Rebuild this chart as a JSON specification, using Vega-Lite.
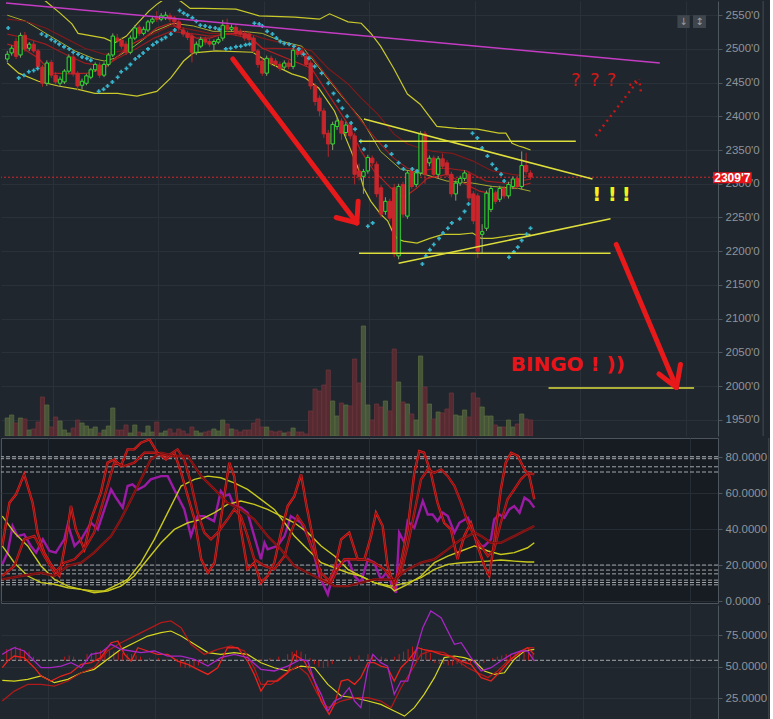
{
"$schema":"https://vega.github.io/schema/vega-lite/v6.json",
"background":"#1f262d",
"padding":0,
"spacing":2,
"bounds":"flush",
"resolve":{"scale":{"color":"independent"}},
"config":{"view":{"stroke":null},"axis":{"labelFont":"Liberation Sans","labelFontSize":11.5,"labelColor":"#8e949b","domainColor":"#4d555d","tickColor":"#4d555d","gridColor":"#2a3139","tickSize":4,"labelPadding":3,"labelOverlap":false}},
"datasets":{
"cd":[
{"i":0,"o":2485,"h":2497,"l":2480,"c":2492,"v":18},{"i":1,"o":2494,"h":2505,"l":2490,"c":2501,"v":21},{"i":2,"o":2511,"h":2516,"l":2485,"c":2489,"v":13},{"i":3,"o":2491,"h":2524,"l":2487,"c":2520,"v":18},{"i":4,"o":2520,"h":2525,"l":2496,"c":2500,"v":17},{"i":5,"o":2501,"h":2510,"l":2497,"c":2507,"v":6},{"i":6,"o":2507,"h":2512,"l":2494,"c":2497,"v":7},{"i":7,"o":2497,"h":2500,"l":2470,"c":2474,"v":14},{"i":8,"o":2473,"h":2476,"l":2444,"c":2449,"v":39},{"i":9,"o":2449,"h":2483,"l":2445,"c":2479,"v":31},
{"i":10,"o":2480,"h":2484,"l":2457,"c":2461,"v":9},{"i":11,"o":2461,"h":2466,"l":2447,"c":2451,"v":19},{"i":12,"o":2449,"h":2459,"l":2444,"c":2455,"v":15},{"i":13,"o":2451,"h":2470,"l":2448,"c":2467,"v":6},{"i":14,"o":2467,"h":2492,"l":2464,"c":2488,"v":3},{"i":15,"o":2488,"h":2492,"l":2459,"c":2463,"v":8},{"i":16,"o":2464,"h":2467,"l":2438,"c":2445,"v":16},{"i":17,"o":2446,"h":2456,"l":2440,"c":2452,"v":13},{"i":18,"o":2449,"h":2463,"l":2446,"c":2460,"v":10},{"i":19,"o":2458,"h":2472,"l":2455,"c":2469,"v":7},
{"i":20,"o":2469,"h":2480,"l":2466,"c":2477,"v":9},{"i":21,"o":2476,"h":2480,"l":2457,"c":2461,"v":3},{"i":22,"o":2461,"h":2480,"l":2458,"c":2477,"v":6},{"i":23,"o":2477,"h":2494,"l":2474,"c":2491,"v":10},{"i":24,"o":2491,"h":2523,"l":2488,"c":2519,"v":28},{"i":25,"o":2516,"h":2522,"l":2509,"c":2512,"v":6},{"i":26,"o":2513,"h":2517,"l":2500,"c":2504,"v":6},{"i":27,"o":2507,"h":2511,"l":2491,"c":2495,"v":11},{"i":28,"o":2495,"h":2520,"l":2492,"c":2516,"v":3},{"i":29,"o":2516,"h":2535,"l":2513,"c":2531,"v":11},
{"i":30,"o":2532,"h":2536,"l":2519,"c":2523,"v":4},{"i":31,"o":2523,"h":2533,"l":2520,"c":2529,"v":3},{"i":32,"o":2528,"h":2543,"l":2525,"c":2540,"v":10},{"i":33,"o":2540,"h":2547,"l":2537,"c":2544,"v":4},{"i":34,"o":2546,"h":2556,"l":2540,"c":2544,"v":14},{"i":35,"o":2544,"h":2553,"l":2541,"c":2549,"v":3},{"i":36,"o":2546,"h":2555,"l":2543,"c":2550,"v":5},{"i":37,"o":2549,"h":2553,"l":2540,"c":2544,"v":7},{"i":38,"o":2546,"h":2549,"l":2536,"c":2540,"v":3},{"i":39,"o":2540,"h":2543,"l":2527,"c":2531,"v":7},
{"i":40,"o":2528,"h":2532,"l":2518,"c":2522,"v":5},{"i":41,"o":2523,"h":2527,"l":2513,"c":2517,"v":2},{"i":42,"o":2519,"h":2523,"l":2480,"c":2495,"v":9},{"i":43,"o":2495,"h":2511,"l":2491,"c":2507,"v":5},{"i":44,"o":2504,"h":2518,"l":2501,"c":2514,"v":3},{"i":45,"o":2514,"h":2518,"l":2506,"c":2510,"v":4},{"i":46,"o":2511,"h":2515,"l":2503,"c":2507,"v":5},{"i":47,"o":2507,"h":2514,"l":2497,"c":2511,"v":7},{"i":48,"o":2510,"h":2518,"l":2507,"c":2514,"v":5},{"i":49,"o":2516,"h":2543,"l":2512,"c":2535,"v":16},
{"i":50,"o":2535,"h":2545,"l":2525,"c":2529,"v":12},{"i":51,"o":2529,"h":2536,"l":2525,"c":2532,"v":7},{"i":52,"o":2532,"h":2536,"l":2519,"c":2523,"v":6},{"i":53,"o":2526,"h":2530,"l":2518,"c":2522,"v":4},{"i":54,"o":2523,"h":2527,"l":2512,"c":2516,"v":6},{"i":55,"o":2522,"h":2526,"l":2510,"c":2514,"v":6},{"i":56,"o":2516,"h":2520,"l":2493,"c":2497,"v":13},{"i":57,"o":2497,"h":2500,"l":2472,"c":2477,"v":17},{"i":58,"o":2482,"h":2486,"l":2460,"c":2464,"v":9},{"i":59,"o":2464,"h":2490,"l":2460,"c":2486,"v":9},
{"i":60,"o":2486,"h":2490,"l":2475,"c":2479,"v":5},{"i":61,"o":2482,"h":2486,"l":2473,"c":2477,"v":4},{"i":62,"o":2477,"h":2481,"l":2467,"c":2471,"v":5},{"i":63,"o":2473,"h":2483,"l":2469,"c":2479,"v":3},{"i":64,"o":2479,"h":2483,"l":2470,"c":2474,"v":4},{"i":65,"o":2474,"h":2502,"l":2470,"c":2498,"v":8},{"i":66,"o":2498,"h":2502,"l":2488,"c":2492,"v":4},{"i":67,"o":2497,"h":2501,"l":2488,"c":2492,"v":4},{"i":68,"o":2489,"h":2493,"l":2473,"c":2477,"v":2},{"i":69,"o":2479,"h":2483,"l":2440,"c":2445,"v":25},
{"i":70,"o":2445,"h":2449,"l":2416,"c":2422,"v":47},{"i":71,"o":2427,"h":2431,"l":2400,"c":2408,"v":45},{"i":72,"o":2408,"h":2412,"l":2368,"c":2374,"v":51},{"i":73,"o":2375,"h":2380,"l":2340,"c":2359,"v":66},{"i":74,"o":2359,"h":2392,"l":2350,"c":2388,"v":35},{"i":75,"o":2385,"h":2398,"l":2380,"c":2393,"v":20},{"i":76,"o":2393,"h":2397,"l":2365,"c":2375,"v":33},{"i":77,"o":2376,"h":2392,"l":2370,"c":2387,"v":31},{"i":78,"o":2387,"h":2391,"l":2366,"c":2371,"v":30},{"i":79,"o":2371,"h":2375,"l":2299,"c":2314,"v":77},
{"i":80,"o":2319,"h":2330,"l":2305,"c":2311,"v":53},{"i":81,"o":2311,"h":2322,"l":2285,"c":2318,"v":110},{"i":82,"o":2319,"h":2343,"l":2315,"c":2339,"v":31},{"i":83,"o":2338,"h":2342,"l":2326,"c":2331,"v":16},{"i":84,"o":2329,"h":2333,"l":2280,"c":2285,"v":32},{"i":85,"o":2294,"h":2298,"l":2250,"c":2255,"v":29},{"i":86,"o":2259,"h":2280,"l":2254,"c":2274,"v":35},{"i":87,"o":2274,"h":2278,"l":2244,"c":2249,"v":25},{"i":88,"o":2294,"h":2300,"l":2191,"c":2196,"v":87},{"i":89,"o":2193,"h":2300,"l":2188,"c":2296,"v":54},
{"i":90,"o":2299,"h":2303,"l":2250,"c":2255,"v":34},{"i":91,"o":2252,"h":2320,"l":2248,"c":2316,"v":32},{"i":92,"o":2319,"h":2323,"l":2292,"c":2296,"v":22},{"i":93,"o":2299,"h":2320,"l":2295,"c":2316,"v":16},{"i":94,"o":2316,"h":2378,"l":2312,"c":2374,"v":80},{"i":95,"o":2374,"h":2378,"l":2300,"c":2314,"v":49},{"i":96,"o":2331,"h":2342,"l":2326,"c":2338,"v":32},{"i":97,"o":2338,"h":2342,"l":2310,"c":2314,"v":17},{"i":98,"o":2314,"h":2341,"l":2308,"c":2337,"v":24},{"i":99,"o":2337,"h":2345,"l":2322,"c":2326,"v":23},
{"i":100,"o":2331,"h":2335,"l":2310,"c":2314,"v":27},{"i":101,"o":2314,"h":2318,"l":2280,"c":2285,"v":43},{"i":102,"o":2285,"h":2305,"l":2275,"c":2301,"v":21},{"i":103,"o":2301,"h":2312,"l":2297,"c":2308,"v":20},{"i":104,"o":2308,"h":2320,"l":2304,"c":2316,"v":26},{"i":105,"o":2314,"h":2318,"l":2274,"c":2279,"v":19},{"i":106,"o":2285,"h":2289,"l":2240,"c":2245,"v":43},{"i":107,"o":2282,"h":2286,"l":2190,"c":2200,"v":38},{"i":108,"o":2225,"h":2240,"l":2196,"c":2229,"v":29},{"i":109,"o":2234,"h":2290,"l":2230,"c":2286,"v":20},
{"i":110,"o":2262,"h":2297,"l":2258,"c":2293,"v":20},{"i":111,"o":2286,"h":2290,"l":2270,"c":2274,"v":11},{"i":112,"o":2277,"h":2297,"l":2273,"c":2293,"v":9},{"i":113,"o":2293,"h":2297,"l":2278,"c":2282,"v":9},{"i":114,"o":2282,"h":2303,"l":2278,"c":2299,"v":16},{"i":115,"o":2296,"h":2311,"l":2292,"c":2307,"v":9},{"i":116,"o":2308,"h":2312,"l":2292,"c":2296,"v":12},{"i":117,"o":2296,"h":2348,"l":2292,"c":2327,"v":22},{"i":118,"o":2327,"h":2346,"l":2314,"c":2318,"v":17},{"i":119,"o":2316,"h":2320,"l":2306,"c":2310,"v":16}
],
"ml":[
{"s":"u","i":0,"p":2600},{"s":"u","i":4.2,"p":2586},{"s":"u","i":8.7,"p":2571},{"s":"u","i":12.0,"p":2553},{"s":"u","i":14.7,"p":2537},{"s":"u","i":16.1,"p":2523},{"s":"u","i":22.1,"p":2516},{"s":"u","i":24.4,"p":2509},{"s":"u","i":27.1,"p":2519},{"s":"u","i":29.5,"p":2537},{"s":"u","i":32.2,"p":2556},{"s":"u","i":34.0,"p":2566},{"s":"u","i":36.7,"p":2578},{"s":"u","i":39.4,"p":2571},{"s":"u","i":41.6,"p":2560},{"s":"u","i":44.6,"p":2560},{"s":"u","i":52.0,"p":2559},{"s":"u","i":57.3,"p":2549},{"s":"u","i":65.4,"p":2547},{"s":"u","i":71.0,"p":2544},{"s":"u","i":73.3,"p":2552},{"s":"u","i":77.5,"p":2540},{"s":"u","i":80.5,"p":2538},{"s":"u","i":82.7,"p":2523},{"s":"u","i":84.9,"p":2504},{"s":"u","i":87.9,"p":2471},{"s":"u","i":91.0,"p":2433},{"s":"u","i":93.9,"p":2418},{"s":"u","i":97.7,"p":2385},{"s":"u","i":102.2,"p":2382},{"s":"u","i":106.9,"p":2381},{"s":"u","i":111.8,"p":2375},{"s":"u","i":113.4,"p":2375},{"s":"u","i":114.8,"p":2360},{"s":"u","i":116.3,"p":2356},{"s":"u","i":117.4,"p":2354},{"s":"u","i":119.0,"p":2350},
{"s":"m","i":0,"p":2550},{"s":"m","i":4.2,"p":2541},{"s":"m","i":9.8,"p":2519},{"s":"m","i":15.4,"p":2497},{"s":"m","i":19.9,"p":2485},{"s":"m","i":22.1,"p":2482},{"s":"m","i":24.4,"p":2486},{"s":"m","i":28.9,"p":2504},{"s":"m","i":33.4,"p":2526},{"s":"m","i":37.8,"p":2538},{"s":"m","i":42.3,"p":2534},{"s":"m","i":46.8,"p":2526},{"s":"m","i":53.5,"p":2526},{"s":"m","i":58.0,"p":2523},{"s":"m","i":62.5,"p":2511},{"s":"m","i":67.0,"p":2504},{"s":"m","i":71.5,"p":2467},{"s":"m","i":76.0,"p":2430},{"s":"m","i":80.5,"p":2396},{"s":"m","i":84.9,"p":2348},{"s":"m","i":89.4,"p":2322},{"s":"m","i":93.9,"p":2316},{"s":"m","i":100.0,"p":2304},{"s":"m","i":105.8,"p":2301},{"s":"m","i":110.3,"p":2296},{"s":"m","i":116.3,"p":2293},{"s":"m","i":119.0,"p":2289},
{"s":"l","i":0,"p":2479},{"s":"l","i":2.6,"p":2464},{"s":"l","i":7.1,"p":2452},{"s":"l","i":11.6,"p":2445},{"s":"l","i":16.1,"p":2440},{"s":"l","i":19.9,"p":2434},{"s":"l","i":25.1,"p":2434},{"s":"l","i":29.5,"p":2430},{"s":"l","i":34.0,"p":2437},{"s":"l","i":37.2,"p":2457},{"s":"l","i":40.1,"p":2482},{"s":"l","i":42.3,"p":2494},{"s":"l","i":47.5,"p":2497},{"s":"l","i":55.8,"p":2495},{"s":"l","i":58.0,"p":2486},{"s":"l","i":60.3,"p":2477},{"s":"l","i":64.7,"p":2463},{"s":"l","i":67.7,"p":2457},{"s":"l","i":70.8,"p":2442},{"s":"l","i":74.4,"p":2408},{"s":"l","i":76.6,"p":2374},{"s":"l","i":79.8,"p":2323},{"s":"l","i":81.1,"p":2293},{"s":"l","i":82.7,"p":2274},{"s":"l","i":84.9,"p":2255},{"s":"l","i":86.5,"p":2245},{"s":"l","i":87.9,"p":2225},{"s":"l","i":88.8,"p":2218},{"s":"l","i":90.1,"p":2215},{"s":"l","i":93.2,"p":2212},{"s":"l","i":96.1,"p":2219},{"s":"l","i":99.1,"p":2225},{"s":"l","i":102.9,"p":2225},{"s":"l","i":105.8,"p":2227},{"s":"l","i":107.8,"p":2219},{"s":"l","i":110.3,"p":2219},{"s":"l","i":113.4,"p":2222},{"s":"l","i":116.3,"p":2225},{"s":"l","i":119.0,"p":2225},
{"s":"a","i":0,"p":2544},{"s":"a","i":4.2,"p":2541},{"s":"a","i":8.7,"p":2531},{"s":"a","i":13.2,"p":2516},{"s":"a","i":17.6,"p":2501},{"s":"a","i":22.1,"p":2492},{"s":"a","i":25.9,"p":2497},{"s":"a","i":29.5,"p":2511},{"s":"a","i":33.4,"p":2523},{"s":"a","i":37.2,"p":2534},{"s":"a","i":41.6,"p":2529},{"s":"a","i":46.1,"p":2523},{"s":"a","i":50.6,"p":2523},{"s":"a","i":55.1,"p":2522},{"s":"a","i":58.0,"p":2516},{"s":"a","i":65.4,"p":2504},{"s":"a","i":69.2,"p":2497},{"s":"a","i":73.0,"p":2471},{"s":"a","i":77.5,"p":2448},{"s":"a","i":80.5,"p":2427},{"s":"a","i":84.3,"p":2403},{"s":"a","i":87.9,"p":2374},{"s":"a","i":91.0,"p":2359},{"s":"a","i":93.9,"p":2353},{"s":"a","i":96.8,"p":2348},{"s":"a","i":101.3,"p":2345},{"s":"a","i":105.8,"p":2334},{"s":"a","i":110.3,"p":2319},{"s":"a","i":114.8,"p":2314},{"s":"a","i":119.0,"p":2311},
{"s":"b","i":0,"p":2522},{"s":"b","i":4.2,"p":2516},{"s":"b","i":8.7,"p":2507},{"s":"b","i":13.2,"p":2492},{"s":"b","i":17.6,"p":2479},{"s":"b","i":22.1,"p":2474},{"s":"b","i":25.1,"p":2486},{"s":"b","i":29.5,"p":2501},{"s":"b","i":33.4,"p":2516},{"s":"b","i":37.2,"p":2526},{"s":"b","i":41.6,"p":2523},{"s":"b","i":46.1,"p":2519},{"s":"b","i":50.6,"p":2522},{"s":"b","i":55.1,"p":2516},{"s":"b","i":58.0,"p":2501},{"s":"b","i":65.4,"p":2500},{"s":"b","i":69.2,"p":2489},{"s":"b","i":73.0,"p":2457},{"s":"b","i":76.6,"p":2427},{"s":"b","i":80.5,"p":2393},{"s":"b","i":84.3,"p":2363},{"s":"b","i":87.9,"p":2338},{"s":"b","i":91.0,"p":2323},{"s":"b","i":93.9,"p":2319},{"s":"b","i":96.8,"p":2322},{"s":"b","i":100.0,"p":2323},{"s":"b","i":104.4,"p":2319},{"s":"b","i":108.9,"p":2304},{"s":"b","i":113.4,"p":2301},{"s":"b","i":116.3,"p":2304},{"s":"b","i":119.0,"p":2307},
{"s":"f","i":0,"p":2507},{"s":"f","i":3.5,"p":2501},{"s":"f","i":7.1,"p":2486},{"s":"f","i":10.2,"p":2464},{"s":"f","i":14.7,"p":2463},{"s":"f","i":18.3,"p":2464},{"s":"f","i":22.1,"p":2471},{"s":"f","i":25.1,"p":2489},{"s":"f","i":28.2,"p":2507},{"s":"f","i":31.1,"p":2516},{"s":"f","i":34.0,"p":2531},{"s":"f","i":37.2,"p":2538},{"s":"f","i":40.1,"p":2526},{"s":"f","i":43.0,"p":2516},{"s":"f","i":46.1,"p":2516},{"s":"f","i":49.0,"p":2522},{"s":"f","i":52.0,"p":2523},{"s":"f","i":55.1,"p":2519},{"s":"f","i":58.0,"p":2501},{"s":"f","i":69.2,"p":2471},{"s":"f","i":73.0,"p":2433},{"s":"f","i":77.5,"p":2388},{"s":"f","i":80.5,"p":2348},{"s":"f","i":83.4,"p":2319},{"s":"f","i":87.2,"p":2294},{"s":"f","i":90.1,"p":2279},{"s":"f","i":93.2,"p":2294},{"s":"f","i":95.5,"p":2308},{"s":"f","i":100.0,"p":2314},{"s":"f","i":104.4,"p":2299},{"s":"f","i":107.4,"p":2289},{"s":"f","i":110.3,"p":2285},{"s":"f","i":113.4,"p":2292},{"s":"f","i":116.3,"p":2296},{"s":"f","i":119.0,"p":2301}
],
"sar":[
{"i":0.2,"p":2531},{"i":2.6,"p":2457},{"i":3.8,"p":2461},{"i":4.9,"p":2466},{"i":6.0,"p":2468},{"i":6.9,"p":2471},{"i":7.8,"p":2522},{"i":8.9,"p":2519},{"i":10.0,"p":2514},{"i":10.9,"p":2511},{"i":11.8,"p":2507},{"i":12.9,"p":2503},{"i":14.1,"p":2500},{"i":15.0,"p":2495},{"i":16.1,"p":2492},{"i":17.0,"p":2488},{"i":18.1,"p":2486},{"i":19.0,"p":2483},{"i":20.8,"p":2437},{"i":21.9,"p":2440},{"i":22.8,"p":2445},{"i":23.9,"p":2451},{"i":25.1,"p":2458},{"i":25.9,"p":2466},{"i":27.1,"p":2471},{"i":28.0,"p":2477},{"i":29.1,"p":2485},{"i":30.0,"p":2489},{"i":30.9,"p":2494},{"i":32.0,"p":2500},{"i":33.1,"p":2506},{"i":34.0,"p":2510},{"i":35.1,"p":2514},{"i":36.0,"p":2517},{"i":37.2,"p":2522},{"i":38.1,"p":2528},{"i":39.2,"p":2557},{"i":40.1,"p":2553},{"i":41.0,"p":2550},{"i":42.1,"p":2546},{"i":43.0,"p":2541},{"i":43.9,"p":2535},{"i":45.0,"p":2534},{"i":46.1,"p":2532},{"i":47.3,"p":2531},{"i":48.2,"p":2529},{"i":49.7,"p":2500},{"i":50.8,"p":2501},{"i":52.0,"p":2503},{"i":53.1,"p":2504},{"i":54.2,"p":2506},{"i":55.1,"p":2507},{"i":56.2,"p":2538},{"i":57.3,"p":2537},{"i":58.0,"p":2534},{"i":59.1,"p":2526},{"i":60.3,"p":2522},{"i":61.2,"p":2516},{"i":62.1,"p":2511},{"i":63.0,"p":2508},{"i":64.1,"p":2507},{"i":65.2,"p":2504},{"i":66.3,"p":2500},{"i":67.4,"p":2492},{"i":68.6,"p":2486},{"i":69.9,"p":2474},{"i":71.5,"p":2464},{"i":73.0,"p":2449},{"i":74.2,"p":2434},{"i":75.3,"p":2423},{"i":76.2,"p":2412},{"i":77.3,"p":2400},{"i":78.2,"p":2390},{"i":79.1,"p":2381},{"i":80.4,"p":2363},{"i":81.1,"p":2351},{"i":82.0,"p":2237},{"i":83.1,"p":2242},{"i":86.1,"p":2356},{"i":87.4,"p":2344},{"i":89.0,"p":2331},{"i":90.1,"p":2322},{"i":92.1,"p":2322},{"i":93.2,"p":2319},{"i":94.4,"p":2181},{"i":95.2,"p":2193},{"i":96.1,"p":2202},{"i":97.0,"p":2210},{"i":98.2,"p":2219},{"i":99.1,"p":2227},{"i":100.2,"p":2234},{"i":101.1,"p":2242},{"i":102.9,"p":2248},{"i":104.0,"p":2259},{"i":104.9,"p":2270},{"i":105.8,"p":2375},{"i":106.9,"p":2368},{"i":108.0,"p":2353},{"i":109.2,"p":2341},{"i":110.3,"p":2329},{"i":111.2,"p":2322},{"i":112.3,"p":2314},{"i":113.0,"p":2304},{"i":114.1,"p":2191},{"i":115.2,"p":2199},{"i":116.1,"p":2206},{"i":117.0,"p":2216},{"i":118.1,"p":2225},{"i":119.0,"p":2234}
],
"st":[
{"s":"p","i":0,"v":20.4},{"s":"p","i":1.2,"v":26.9},{"s":"p","i":2.3,"v":41.7},{"s":"p","i":3.4,"v":36.1},{"s":"p","i":4.9,"v":37.0},{"s":"p","i":6.4,"v":30.6},{"s":"p","i":7.6,"v":26.9},{"s":"p","i":9.1,"v":34.3},{"s":"p","i":10.6,"v":27.8},{"s":"p","i":12.0,"v":26.9},{"s":"p","i":13.9,"v":34.3},{"s":"p","i":14.7,"v":42.6},{"s":"p","i":16.2,"v":30.6},{"s":"p","i":17.7,"v":34.3},{"s":"p","i":19.9,"v":43.5},{"s":"p","i":21.4,"v":39.8},{"s":"p","i":22.9,"v":51.0},{"s":"p","i":24.4,"v":62.0},{"s":"p","i":25.5,"v":57.4},{"s":"p","i":27.0,"v":51.9},{"s":"p","i":28.1,"v":63.9},{"s":"p","i":29.2,"v":64.8},{"s":"p","i":30.4,"v":62.0},{"s":"p","i":31.9,"v":63.9},{"s":"p","i":33.3,"v":67.6},{"s":"p","i":35.6,"v":69.4},{"s":"p","i":37.1,"v":69.4},{"s":"p","i":39.3,"v":58.3},{"s":"p","i":40.8,"v":51.0},{"s":"p","i":42.3,"v":36.1},{"s":"p","i":43.8,"v":47.2},{"s":"p","i":45.3,"v":47.2},{"s":"p","i":47.5,"v":44.4},{"s":"p","i":49.0,"v":61.1},{"s":"p","i":49.8,"v":58.3},{"s":"p","i":50.9,"v":59.3},{"s":"p","i":52.0,"v":52.8},{"s":"p","i":53.5,"v":51.9},{"s":"p","i":55.0,"v":49.1},{"s":"p","i":56.5,"v":36.1},{"s":"p","i":58.0,"v":23.2},{"s":"p","i":58.8,"v":32.4},{"s":"p","i":59.5,"v":28.7},{"s":"p","i":61.7,"v":30.6},{"s":"p","i":63.3,"v":36.1},{"s":"p","i":64.7,"v":47.2},{"s":"p","i":67.0,"v":43.5},{"s":"p","i":68.5,"v":36.1},{"s":"p","i":69.6,"v":28.7},{"s":"p","i":71.1,"v":13.9},{"s":"p","i":73.0,"v":3.7},{"s":"p","i":74.5,"v":17.6},{"s":"p","i":76.0,"v":21.3},{"s":"p","i":77.5,"v":23.2},{"s":"p","i":79.0,"v":13.9},{"s":"p","i":80.4,"v":10.2},{"s":"p","i":82.0,"v":23.2},{"s":"p","i":83.4,"v":21.3},{"s":"p","i":84.9,"v":12.0},{"s":"p","i":86.1,"v":15.7},{"s":"p","i":87.2,"v":10.2},{"s":"p","i":88.3,"v":4.6},{"s":"p","i":89.0,"v":38.0},{"s":"p","i":90.2,"v":32.4},{"s":"p","i":90.9,"v":44.4},{"s":"p","i":92.4,"v":40.7},{"s":"p","i":94.3,"v":55.6},{"s":"p","i":95.4,"v":48.1},{"s":"p","i":96.5,"v":48.1},{"s":"p","i":97.6,"v":44.4},{"s":"p","i":98.8,"v":49.1},{"s":"p","i":99.9,"v":47.2},{"s":"p","i":101.4,"v":38.0},{"s":"p","i":102.5,"v":43.5},{"s":"p","i":104.4,"v":46.3},{"s":"p","i":105.5,"v":39.8},{"s":"p","i":106.6,"v":30.6},{"s":"p","i":108.1,"v":30.6},{"s":"p","i":109.6,"v":34.3},{"s":"p","i":110.3,"v":45.4},{"s":"p","i":111.5,"v":48.1},{"s":"p","i":112.6,"v":46.3},{"s":"p","i":113.7,"v":50.9},{"s":"p","i":114.8,"v":52.8},{"s":"p","i":116.0,"v":49.1},{"s":"p","i":117.1,"v":57.4},{"s":"p","i":118.2,"v":55.6},{"s":"p","i":119.3,"v":51.9},
{"s":"r1","i":0,"v":30.6},{"s":"r1","i":1.6,"v":54.6},{"s":"r1","i":3.1,"v":59.3},{"s":"r1","i":4.9,"v":70.4},{"s":"r1","i":6.8,"v":54.6},{"s":"r1","i":7.9,"v":38.0},{"s":"r1","i":9.4,"v":26.9},{"s":"r1","i":10.9,"v":20.4},{"s":"r1","i":12.8,"v":13.9},{"s":"r1","i":14.3,"v":34.3},{"s":"r1","i":15.4,"v":52.8},{"s":"r1","i":16.5,"v":39.8},{"s":"r1","i":18.4,"v":28.7},{"s":"r1","i":19.9,"v":45.4},{"s":"r1","i":22.1,"v":60.2},{"s":"r1","i":23.6,"v":76.9},{"s":"r1","i":25.1,"v":78.7},{"s":"r1","i":26.6,"v":75.0},{"s":"r1","i":28.1,"v":84.3},{"s":"r1","i":29.6,"v":84.3},{"s":"r1","i":31.1,"v":88.0},{"s":"r1","i":33.0,"v":89.8},{"s":"r1","i":34.8,"v":82.4},{"s":"r1","i":36.7,"v":78.7},{"s":"r1","i":38.6,"v":82.4},{"s":"r1","i":40.1,"v":71.3},{"s":"r1","i":41.6,"v":58.3},{"s":"r1","i":43.1,"v":45.4},{"s":"r1","i":44.6,"v":23.2},{"s":"r1","i":46.1,"v":15.7},{"s":"r1","i":47.6,"v":21.3},{"s":"r1","i":49.0,"v":45.4},{"s":"r1","i":50.9,"v":76.9},{"s":"r1","i":52.0,"v":69.4},{"s":"r1","i":53.5,"v":39.8},{"s":"r1","i":55.0,"v":17.6},{"s":"r1","i":56.5,"v":21.3},{"s":"r1","i":58.0,"v":10.2},{"s":"r1","i":59.5,"v":13.9},{"s":"r1","i":61.0,"v":21.3},{"s":"r1","i":62.5,"v":38.0},{"s":"r1","i":64.0,"v":52.8},{"s":"r1","i":65.5,"v":58.3},{"s":"r1","i":67.0,"v":70.4},{"s":"r1","i":68.1,"v":54.6},{"s":"r1","i":70.0,"v":30.6},{"s":"r1","i":71.5,"v":12.0},{"s":"r1","i":73.0,"v":10.2},{"s":"r1","i":74.5,"v":17.6},{"s":"r1","i":76.0,"v":34.3},{"s":"r1","i":77.8,"v":38.0},{"s":"r1","i":79.7,"v":23.2},{"s":"r1","i":81.2,"v":23.2},{"s":"r1","i":82.7,"v":36.1},{"s":"r1","i":83.8,"v":49.1},{"s":"r1","i":85.3,"v":41.7},{"s":"r1","i":86.4,"v":19.5},{"s":"r1","i":87.9,"v":8.3},{"s":"r1","i":89.4,"v":21.3},{"s":"r1","i":90.9,"v":39.8},{"s":"r1","i":92.4,"v":71.3},{"s":"r1","i":93.5,"v":83.3},{"s":"r1","i":94.6,"v":82.4},{"s":"r1","i":96.1,"v":71.3},{"s":"r1","i":97.6,"v":54.6},{"s":"r1","i":99.1,"v":43.5},{"s":"r1","i":100.6,"v":39.8},{"s":"r1","i":102.1,"v":23.2},{"s":"r1","i":103.6,"v":36.1},{"s":"r1","i":105.1,"v":43.5},{"s":"r1","i":106.6,"v":30.6},{"s":"r1","i":108.1,"v":19.5},{"s":"r1","i":109.2,"v":13.9},{"s":"r1","i":110.3,"v":32.4},{"s":"r1","i":111.8,"v":62.0},{"s":"r1","i":112.9,"v":76.9},{"s":"r1","i":114.1,"v":82.4},{"s":"r1","i":115.6,"v":80.6},{"s":"r1","i":117.1,"v":73.1},{"s":"r1","i":118.2,"v":69.4},{"s":"r1","i":119.3,"v":56.5},
{"s":"r2","i":0,"v":13.9},{"s":"r2","i":2.7,"v":19.5},{"s":"r2","i":4.9,"v":34.3},{"s":"r2","i":7.2,"v":36.1},{"s":"r2","i":9.4,"v":25.0},{"s":"r2","i":11.7,"v":15.7},{"s":"r2","i":13.9,"v":21.3},{"s":"r2","i":16.2,"v":23.2},{"s":"r2","i":18.4,"v":28.7},{"s":"r2","i":20.6,"v":38.0},{"s":"r2","i":22.1,"v":50.9},{"s":"r2","i":23.6,"v":63.9},{"s":"r2","i":25.1,"v":76.9},{"s":"r2","i":27.4,"v":75.0},{"s":"r2","i":29.6,"v":76.9},{"s":"r2","i":31.9,"v":82.4},{"s":"r2","i":34.1,"v":82.4},{"s":"r2","i":37.1,"v":80.6},{"s":"r2","i":39.3,"v":84.3},{"s":"r2","i":40.8,"v":78.7},{"s":"r2","i":42.3,"v":65.7},{"s":"r2","i":43.8,"v":49.1},{"s":"r2","i":45.3,"v":38.0},{"s":"r2","i":46.8,"v":34.3},{"s":"r2","i":48.3,"v":38.0},{"s":"r2","i":50.5,"v":45.4},{"s":"r2","i":52.0,"v":50.9},{"s":"r2","i":53.5,"v":47.2},{"s":"r2","i":55.0,"v":36.1},{"s":"r2","i":56.5,"v":23.2},{"s":"r2","i":58.8,"v":19.5},{"s":"r2","i":61.0,"v":17.6},{"s":"r2","i":63.3,"v":25.0},{"s":"r2","i":64.7,"v":38.0},{"s":"r2","i":66.2,"v":47.2},{"s":"r2","i":67.7,"v":41.7},{"s":"r2","i":69.2,"v":30.6},{"s":"r2","i":71.5,"v":15.7},{"s":"r2","i":73.7,"v":10.2},{"s":"r2","i":75.2,"v":17.6},{"s":"r2","i":76.7,"v":23.2},{"s":"r2","i":79.0,"v":23.2},{"s":"r2","i":81.2,"v":23.2},{"s":"r2","i":83.4,"v":21.3},{"s":"r2","i":85.7,"v":17.6},{"s":"r2","i":87.9,"v":10.2},{"s":"r2","i":89.4,"v":15.7},{"s":"r2","i":90.9,"v":30.6},{"s":"r2","i":92.4,"v":49.1},{"s":"r2","i":93.9,"v":67.6},{"s":"r2","i":95.4,"v":73.1},{"s":"r2","i":96.9,"v":71.3},{"s":"r2","i":98.4,"v":73.1},{"s":"r2","i":99.9,"v":69.4},{"s":"r2","i":101.4,"v":63.9},{"s":"r2","i":102.9,"v":54.6},{"s":"r2","i":104.4,"v":43.5},{"s":"r2","i":105.9,"v":36.1},{"s":"r2","i":107.4,"v":30.6},{"s":"r2","i":108.9,"v":25.0},{"s":"r2","i":110.3,"v":28.7},{"s":"r2","i":111.8,"v":43.5},{"s":"r2","i":113.3,"v":56.5},{"s":"r2","i":114.8,"v":62.0},{"s":"r2","i":116.3,"v":67.6},{"s":"r2","i":117.8,"v":71.3},{"s":"r2","i":119.3,"v":70.4},
{"s":"r3","i":0,"v":12.0},{"s":"r3","i":4.2,"v":13.9},{"s":"r3","i":8.7,"v":15.7},{"s":"r3","i":11.7,"v":13.9},{"s":"r3","i":14.7,"v":19.5},{"s":"r3","i":17.7,"v":21.3},{"s":"r3","i":20.6,"v":26.9},{"s":"r3","i":22.1,"v":30.6},{"s":"r3","i":24.4,"v":36.1},{"s":"r3","i":26.6,"v":45.4},{"s":"r3","i":28.9,"v":56.5},{"s":"r3","i":31.1,"v":67.6},{"s":"r3","i":33.3,"v":78.7},{"s":"r3","i":35.6,"v":82.4},{"s":"r3","i":38.6,"v":80.6},{"s":"r3","i":41.6,"v":80.6},{"s":"r3","i":44.6,"v":69.4},{"s":"r3","i":47.6,"v":62.0},{"s":"r3","i":50.5,"v":54.6},{"s":"r3","i":53.5,"v":50.9},{"s":"r3","i":56.5,"v":45.4},{"s":"r3","i":59.5,"v":36.1},{"s":"r3","i":62.5,"v":28.7},{"s":"r3","i":65.5,"v":19.5},{"s":"r3","i":68.5,"v":15.7},{"s":"r3","i":71.5,"v":12.0},{"s":"r3","i":74.5,"v":8.3},{"s":"r3","i":77.5,"v":8.3},{"s":"r3","i":80.4,"v":10.2},{"s":"r3","i":83.4,"v":12.0},{"s":"r3","i":87.9,"v":12.0},{"s":"r3","i":90.9,"v":17.6},{"s":"r3","i":93.9,"v":21.3},{"s":"r3","i":96.9,"v":23.2},{"s":"r3","i":99.9,"v":28.7},{"s":"r3","i":102.9,"v":34.3},{"s":"r3","i":105.9,"v":38.0},{"s":"r3","i":107.4,"v":36.1},{"s":"r3","i":109.6,"v":32.4},{"s":"r3","i":111.8,"v":32.4},{"s":"r3","i":114.8,"v":36.1},{"s":"r3","i":117.8,"v":39.8},{"s":"r3","i":119.3,"v":41.7},
{"s":"y1","i":0,"v":47.2},{"s":"y1","i":2.7,"v":38.0},{"s":"y1","i":5.7,"v":30.6},{"s":"y1","i":8.7,"v":19.5},{"s":"y1","i":11.7,"v":12.0},{"s":"y1","i":14.7,"v":8.3},{"s":"y1","i":17.7,"v":6.5},{"s":"y1","i":20.6,"v":5.6},{"s":"y1","i":22.9,"v":5.6},{"s":"y1","i":25.1,"v":8.3},{"s":"y1","i":28.1,"v":12.0},{"s":"y1","i":31.1,"v":21.3},{"s":"y1","i":34.1,"v":34.3},{"s":"y1","i":37.1,"v":49.1},{"s":"y1","i":40.1,"v":63.9},{"s":"y1","i":43.1,"v":67.6},{"s":"y1","i":46.1,"v":69.4},{"s":"y1","i":49.0,"v":68.5},{"s":"y1","i":52.0,"v":65.7},{"s":"y1","i":55.0,"v":62.0},{"s":"y1","i":58.0,"v":56.5},{"s":"y1","i":61.0,"v":50.9},{"s":"y1","i":63.3,"v":43.5},{"s":"y1","i":65.5,"v":36.1},{"s":"y1","i":68.5,"v":28.7},{"s":"y1","i":71.5,"v":21.3},{"s":"y1","i":74.5,"v":18.5},{"s":"y1","i":77.5,"v":15.7},{"s":"y1","i":80.4,"v":13.9},{"s":"y1","i":83.4,"v":10.2},{"s":"y1","i":87.2,"v":7.4},{"s":"y1","i":87.9,"v":5.6},{"s":"y1","i":90.9,"v":9.3},{"s":"y1","i":93.9,"v":13.9},{"s":"y1","i":96.9,"v":21.3},{"s":"y1","i":99.9,"v":25.0},{"s":"y1","i":102.9,"v":27.8},{"s":"y1","i":105.9,"v":30.6},{"s":"y1","i":108.9,"v":27.8},{"s":"y1","i":111.8,"v":25.9},{"s":"y1","i":114.8,"v":26.9},{"s":"y1","i":117.8,"v":29.6},{"s":"y1","i":119.3,"v":32.4},
{"s":"y2","i":0,"v":30.6},{"s":"y2","i":2.7,"v":21.3},{"s":"y2","i":5.7,"v":13.9},{"s":"y2","i":8.7,"v":10.2},{"s":"y2","i":11.7,"v":9.3},{"s":"y2","i":14.7,"v":7.4},{"s":"y2","i":17.7,"v":6.5},{"s":"y2","i":20.6,"v":4.6},{"s":"y2","i":23.6,"v":5.6},{"s":"y2","i":26.6,"v":8.3},{"s":"y2","i":29.6,"v":13.9},{"s":"y2","i":32.6,"v":23.2},{"s":"y2","i":35.6,"v":32.4},{"s":"y2","i":38.6,"v":39.8},{"s":"y2","i":41.6,"v":43.5},{"s":"y2","i":44.6,"v":45.4},{"s":"y2","i":47.6,"v":49.1},{"s":"y2","i":50.5,"v":53.7},{"s":"y2","i":53.5,"v":55.6},{"s":"y2","i":56.5,"v":53.7},{"s":"y2","i":59.5,"v":50.9},{"s":"y2","i":62.5,"v":47.2},{"s":"y2","i":65.5,"v":43.5},{"s":"y2","i":68.5,"v":38.0},{"s":"y2","i":71.5,"v":30.6},{"s":"y2","i":74.5,"v":25.0},{"s":"y2","i":77.5,"v":17.6},{"s":"y2","i":80.4,"v":13.9},{"s":"y2","i":83.4,"v":10.2},{"s":"y2","i":87.2,"v":8.3},{"s":"y2","i":90.9,"v":10.2},{"s":"y2","i":93.9,"v":13.0},{"s":"y2","i":96.9,"v":17.6},{"s":"y2","i":99.9,"v":20.4},{"s":"y2","i":102.9,"v":21.3},{"s":"y2","i":105.9,"v":21.7},{"s":"y2","i":108.9,"v":22.2},{"s":"y2","i":111.8,"v":22.8},{"s":"y2","i":114.8,"v":22.2},{"s":"y2","i":117.8,"v":21.7},{"s":"y2","i":119.3,"v":21.7}
],
"p3":[
{"s":"y","i":0,"v":39.1},{"s":"y","i":2.7,"v":38.6},{"s":"y","i":5.7,"v":39.9},{"s":"y","i":8.7,"v":42.6},{"s":"y","i":11.7,"v":37.3},{"s":"y","i":14.7,"v":39.9},{"s":"y","i":17.7,"v":45.2},{"s":"y","i":20.6,"v":47.9},{"s":"y","i":23.6,"v":55.9},{"s":"y","i":26.6,"v":63.8},{"s":"y","i":29.6,"v":69.1},{"s":"y","i":32.6,"v":74.4},{"s":"y","i":35.6,"v":77.1},{"s":"y","i":37.8,"v":78.4},{"s":"y","i":40.1,"v":74.4},{"s":"y","i":43.1,"v":67.8},{"s":"y","i":46.1,"v":61.2},{"s":"y","i":49.0,"v":59.8},{"s":"y","i":52.0,"v":61.2},{"s":"y","i":55.0,"v":59.8},{"s":"y","i":58.0,"v":53.2},{"s":"y","i":61.0,"v":49.2},{"s":"y","i":64.0,"v":46.6},{"s":"y","i":67.0,"v":50.5},{"s":"y","i":70.0,"v":49.2},{"s":"y","i":73.0,"v":35.9},{"s":"y","i":76.0,"v":26.7},{"s":"y","i":79.0,"v":25.3},{"s":"y","i":82.0,"v":22.7},{"s":"y","i":84.9,"v":20.0},{"s":"y","i":87.9,"v":14.7},{"s":"y","i":90.2,"v":10.7},{"s":"y","i":92.4,"v":17.4},{"s":"y","i":94.6,"v":28.0},{"s":"y","i":96.9,"v":41.3},{"s":"y","i":99.1,"v":57.2},{"s":"y","i":101.4,"v":58.5},{"s":"y","i":103.6,"v":57.2},{"s":"y","i":105.9,"v":54.5},{"s":"y","i":108.1,"v":46.6},{"s":"y","i":110.3,"v":43.9},{"s":"y","i":112.6,"v":45.2},{"s":"y","i":114.8,"v":55.9},{"s":"y","i":117.1,"v":62.5},{"s":"y","i":119.3,"v":63.8},
{"s":"d","i":0,"v":22.7},{"s":"d","i":2.7,"v":30.6},{"s":"d","i":5.7,"v":35.9},{"s":"d","i":8.7,"v":35.9},{"s":"d","i":11.7,"v":34.6},{"s":"d","i":14.7,"v":38.6},{"s":"d","i":17.7,"v":45.2},{"s":"d","i":20.6,"v":49.2},{"s":"d","i":23.6,"v":62.5},{"s":"d","i":26.6,"v":69.1},{"s":"d","i":29.6,"v":74.4},{"s":"d","i":32.6,"v":79.7},{"s":"d","i":35.6,"v":85.0},{"s":"d","i":37.8,"v":86.4},{"s":"d","i":40.1,"v":81.1},{"s":"d","i":42.3,"v":67.8},{"s":"d","i":45.3,"v":59.8},{"s":"d","i":48.3,"v":63.8},{"s":"d","i":51.3,"v":66.5},{"s":"d","i":54.3,"v":62.5},{"s":"d","i":56.5,"v":49.2},{"s":"d","i":58.0,"v":35.9},{"s":"d","i":60.3,"v":35.9},{"s":"d","i":63.3,"v":43.9},{"s":"d","i":66.2,"v":50.5},{"s":"d","i":68.5,"v":43.9},{"s":"d","i":70.7,"v":28.0},{"s":"d","i":73.0,"v":17.4},{"s":"d","i":76.0,"v":22.7},{"s":"d","i":79.0,"v":25.3},{"s":"d","i":82.0,"v":25.3},{"s":"d","i":84.9,"v":22.7},{"s":"d","i":87.2,"v":17.4},{"s":"d","i":89.4,"v":33.3},{"s":"d","i":91.7,"v":46.6},{"s":"d","i":93.9,"v":59.8},{"s":"d","i":96.1,"v":62.5},{"s":"d","i":99.1,"v":61.2},{"s":"d","i":102.1,"v":54.5},{"s":"d","i":104.4,"v":49.2},{"s":"d","i":106.6,"v":45.2},{"s":"d","i":108.9,"v":41.3},{"s":"d","i":111.1,"v":46.6},{"s":"d","i":113.3,"v":54.5},{"s":"d","i":115.6,"v":59.8},{"s":"d","i":117.8,"v":65.1},{"s":"d","i":119.3,"v":65.1},
{"s":"r","i":0,"v":49.2},{"s":"r","i":1.2,"v":54.5},{"s":"r","i":2.7,"v":58.5},{"s":"r","i":4.9,"v":57.2},{"s":"r","i":7.2,"v":49.2},{"s":"r","i":8.7,"v":42.6},{"s":"r","i":10.9,"v":38.6},{"s":"r","i":13.2,"v":42.6},{"s":"r","i":15.4,"v":45.2},{"s":"r","i":17.7,"v":51.9},{"s":"r","i":19.9,"v":53.2},{"s":"r","i":22.1,"v":57.2},{"s":"r","i":24.4,"v":69.1},{"s":"r","i":25.9,"v":70.5},{"s":"r","i":27.4,"v":59.8},{"s":"r","i":28.9,"v":54.5},{"s":"r","i":30.4,"v":65.1},{"s":"r","i":32.6,"v":62.5},{"s":"r","i":34.8,"v":59.8},{"s":"r","i":37.1,"v":59.8},{"s":"r","i":39.3,"v":54.5},{"s":"r","i":41.6,"v":51.9},{"s":"r","i":43.8,"v":47.9},{"s":"r","i":46.1,"v":43.9},{"s":"r","i":48.3,"v":49.2},{"s":"r","i":50.5,"v":65.1},{"s":"r","i":52.8,"v":65.1},{"s":"r","i":55.0,"v":54.5},{"s":"r","i":56.5,"v":43.9},{"s":"r","i":58.0,"v":30.6},{"s":"r","i":59.5,"v":38.6},{"s":"r","i":61.7,"v":38.6},{"s":"r","i":64.0,"v":45.2},{"s":"r","i":65.5,"v":59.8},{"s":"r","i":67.7,"v":54.5},{"s":"r","i":70.0,"v":38.6},{"s":"r","i":71.5,"v":22.7},{"s":"r","i":73.3,"v":12.1},{"s":"r","i":74.5,"v":20.0},{"s":"r","i":76.0,"v":38.6},{"s":"r","i":77.5,"v":39.9},{"s":"r","i":79.0,"v":36.0},{"s":"r","i":80.4,"v":41.3},{"s":"r","i":82.0,"v":53.2},{"s":"r","i":83.4,"v":53.2},{"s":"r","i":84.9,"v":50.5},{"s":"r","i":86.4,"v":49.2},{"s":"r","i":87.9,"v":38.6},{"s":"r","i":89.4,"v":49.2},{"s":"r","i":90.9,"v":54.5},{"s":"r","i":93.2,"v":65.1},{"s":"r","i":94.3,"v":63.8},{"s":"r","i":96.1,"v":62.5},{"s":"r","i":98.4,"v":59.8},{"s":"r","i":100.6,"v":58.5},{"s":"r","i":102.9,"v":54.5},{"s":"r","i":105.1,"v":51.9},{"s":"r","i":107.4,"v":41.3},{"s":"r","i":109.6,"v":38.6},{"s":"r","i":111.8,"v":46.6},{"s":"r","i":114.1,"v":55.9},{"s":"r","i":116.3,"v":62.5},{"s":"r","i":117.8,"v":65.1},{"s":"r","i":119.3,"v":59.8},
{"s":"p","i":0,"v":59.8},{"s":"p","i":1.2,"v":62.5},{"s":"p","i":2.7,"v":65.1},{"s":"p","i":4.9,"v":62.5},{"s":"p","i":7.2,"v":54.5},{"s":"p","i":8.7,"v":49.2},{"s":"p","i":10.9,"v":49.2},{"s":"p","i":13.2,"v":50.5},{"s":"p","i":15.4,"v":53.2},{"s":"p","i":17.7,"v":49.2},{"s":"p","i":19.9,"v":59.8},{"s":"p","i":22.1,"v":61.2},{"s":"p","i":24.4,"v":67.8},{"s":"p","i":26.6,"v":63.8},{"s":"p","i":28.9,"v":62.5},{"s":"p","i":31.1,"v":61.2},{"s":"p","i":34.1,"v":62.5},{"s":"p","i":37.1,"v":58.5},{"s":"p","i":40.1,"v":58.5},{"s":"p","i":43.1,"v":55.9},{"s":"p","i":46.1,"v":50.5},{"s":"p","i":49.0,"v":57.2},{"s":"p","i":52.0,"v":59.8},{"s":"p","i":55.0,"v":57.2},{"s":"p","i":58.0,"v":47.9},{"s":"p","i":61.0,"v":46.6},{"s":"p","i":64.0,"v":50.5},{"s":"p","i":67.0,"v":55.9},{"s":"p","i":68.5,"v":54.5},{"s":"p","i":70.0,"v":38.6},{"s":"p","i":71.5,"v":28.0},{"s":"p","i":73.0,"v":14.7},{"s":"p","i":74.5,"v":22.7},{"s":"p","i":76.0,"v":25.3},{"s":"p","i":77.8,"v":33.3},{"s":"p","i":79.0,"v":22.7},{"s":"p","i":80.4,"v":17.4},{"s":"p","i":82.0,"v":49.2},{"s":"p","i":83.1,"v":59.8},{"s":"p","i":84.9,"v":53.2},{"s":"p","i":86.4,"v":50.5},{"s":"p","i":87.9,"v":28.0},{"s":"p","i":89.4,"v":38.6},{"s":"p","i":90.9,"v":38.6},{"s":"p","i":93.2,"v":67.8},{"s":"p","i":94.3,"v":81.1},{"s":"p","i":96.1,"v":94.3},{"s":"p","i":98.4,"v":89.0},{"s":"p","i":101.4,"v":67.8},{"s":"p","i":102.9,"v":69.1},{"s":"p","i":105.1,"v":57.2},{"s":"p","i":107.4,"v":46.6},{"s":"p","i":109.6,"v":49.2},{"s":"p","i":111.8,"v":54.5},{"s":"p","i":114.1,"v":59.8},{"s":"p","i":116.3,"v":62.5},{"s":"p","i":117.8,"v":62.5},{"s":"p","i":119.3,"v":54.5}
],
"h3":[
{"i":1,"h":64},{"i":2,"h":65},{"i":3,"h":66},{"i":4,"h":65},{"i":5,"h":63},{"i":6,"h":62},{"i":7,"h":58},{"i":8,"h":56},{"i":14,"h":58},{"i":15,"h":59},{"i":16,"h":58},{"i":19,"h":60},{"i":20,"h":61},{"i":21,"h":62},{"i":22,"h":63},{"i":23,"h":64},{"i":24,"h":63},{"i":25,"h":62},{"i":26,"h":62},{"i":27,"h":61},{"i":28,"h":60},{"i":29,"h":60},{"i":30,"h":59},{"i":31,"h":58},{"i":33,"h":57},{"i":35,"h":57},{"i":37,"h":56},{"i":40,"h":50},{"i":41,"h":49},{"i":42,"h":49},{"i":43,"h":50},{"i":44,"h":51},{"i":45,"h":52},{"i":46,"h":53},{"i":48,"h":54},{"i":58,"h":56},{"i":60,"h":57},{"i":62,"h":58},{"i":64,"h":60},{"i":65,"h":62},{"i":66,"h":63},{"i":67,"h":62},{"i":68,"h":60},{"i":69,"h":57},{"i":70,"h":52},{"i":71,"h":50},{"i":72,"h":49},{"i":73,"h":50},{"i":74,"h":52},{"i":78,"h":58},{"i":80,"h":59},{"i":82,"h":60},{"i":83,"h":59},{"i":85,"h":58},{"i":86,"h":57},{"i":88,"h":58},{"i":89,"h":60},{"i":90,"h":62},{"i":91,"h":64},{"i":92,"h":66},{"i":93,"h":66},{"i":94,"h":65},{"i":95,"h":63},{"i":96,"h":61},{"i":97,"h":53},{"i":98,"h":52},{"i":99,"h":52},{"i":100,"h":51},{"i":101,"h":51},{"i":102,"h":52},{"i":103,"h":51},{"i":104,"h":52},{"i":105,"h":53},{"i":106,"h":53},{"i":107,"h":52},{"i":108,"h":53},{"i":110,"h":57},{"i":111,"h":58},{"i":112,"h":59},{"i":113,"h":60},{"i":114,"h":60},{"i":115,"h":61},{"i":116,"h":61},{"i":117,"h":62},{"i":118,"h":61},{"i":119,"h":60}
]
},
"vconcat":[
{
"width":717,"height":435,
"view":{"fill":"#1f262d","stroke":null},
"resolve":{"scale":{"y":"independent"}},
"layer":[
{"data":{"name":"cd"},"mark":{"type":"bar","size":4.2,"strokeWidth":0.7,"clip":true},
"encoding":{
"x":{"field":"i","type":"quantitative","scale":{"domain":[-0.29,160.5],"nice":false,"zero":false}},
"y":{"field":"v","type":"quantitative","scale":{"domain":[0,435],"nice":false},"axis":{"orient":"left","labels":false,"ticks":false,"domain":false,"grid":false,"title":null}},
"fill":{"condition":{"test":"datum.c>=datum.o","value":"#46553a"},"value":"#552a31"},
"stroke":{"condition":{"test":"datum.c>=datum.o","value":"#5d6f40"},"value":"#70363d"}}},
{"layer":[
{"data":{"name":"ml"},"transform":[{"filter":"datum.s=='u'||datum.s=='l'"}],"mark":{"type":"line","strokeWidth":1.2,"color":"#c9c92a","clip":true},
"encoding":{
"x":{"field":"i","type":"quantitative","scale":{"domain":[-0.29,160.5],"nice":false,"zero":false},"axis":{"values":[10.3,34.3,58.3,82.3,106.3,130.3,154.3],"tickCount":20,"labels":false,"ticks":false,"domain":false,"grid":true,"title":null}},
"y":{"field":"p","type":"quantitative","scale":{"domain":[1926,2571],"nice":false,"zero":false},"axis":{"orient":"right","values":[1950,2000,2050,2100,2150,2200,2250,2300,2350,2400,2450,2500,2550],"tickCount":20,"labelExpr":"replace(format(datum.value,'.1f'),'.',\"'\")","labelOverlap":false,"grid":true,"title":null}},
"detail":{"field":"s"}}},
{"data":{"name":"ml"},"transform":[{"filter":"datum.s=='m'"}],"mark":{"type":"line","strokeWidth":1,"color":"#a9a92c","clip":true},
"encoding":{"x":{"field":"i","type":"quantitative","scale":{"domain":[-0.29,160.5],"nice":false,"zero":false}},"y":{"field":"p","type":"quantitative","scale":{"domain":[1926,2571],"nice":false,"zero":false}}}},
{"data":{"name":"ml"},"transform":[{"filter":"datum.s=='a'"}],"mark":{"type":"line","strokeWidth":1.2,"color":"#7d1a1c","clip":true},
"encoding":{"x":{"field":"i","type":"quantitative","scale":{"domain":[-0.29,160.5],"nice":false,"zero":false}},"y":{"field":"p","type":"quantitative","scale":{"domain":[1926,2571],"nice":false,"zero":false}}}},
{"data":{"name":"ml"},"transform":[{"filter":"datum.s=='b'"}],"mark":{"type":"line","strokeWidth":1.2,"color":"#971d20","clip":true},
"encoding":{"x":{"field":"i","type":"quantitative","scale":{"domain":[-0.29,160.5],"nice":false,"zero":false}},"y":{"field":"p","type":"quantitative","scale":{"domain":[1926,2571],"nice":false,"zero":false}}}},
{"data":{"name":"ml"},"transform":[{"filter":"datum.s=='f'"}],"mark":{"type":"line","strokeWidth":1.2,"color":"#b32024","clip":true},
"encoding":{"x":{"field":"i","type":"quantitative","scale":{"domain":[-0.29,160.5],"nice":false,"zero":false}},"y":{"field":"p","type":"quantitative","scale":{"domain":[1926,2571],"nice":false,"zero":false}}}},
{"data":{"values":[{"p":2309.7}]},"mark":{"type":"rule","color":"#d9262a","strokeDash":[2,2],"strokeWidth":1},
"encoding":{"y":{"field":"p","type":"quantitative","scale":{"domain":[1926,2571],"nice":false,"zero":false}}}},
{"data":{"name":"cd"},"mark":{"type":"rule","strokeWidth":1,"clip":true},
"encoding":{
"x":{"field":"i","type":"quantitative","scale":{"domain":[-0.29,160.5],"nice":false,"zero":false}},
"y":{"field":"l","type":"quantitative","scale":{"domain":[1926,2571],"nice":false,"zero":false}},
"y2":{"field":"h"},
"color":{"condition":{"test":"datum.c>=datum.o","value":"#8d9b74"},"value":"#b3262c"}}},
{"data":{"name":"cd"},"mark":{"type":"bar","size":3.4,"strokeWidth":1,"clip":true},
"encoding":{
"x":{"field":"i","type":"quantitative","scale":{"domain":[-0.29,160.5],"nice":false,"zero":false}},
"y":{"field":"o","type":"quantitative","scale":{"domain":[1926,2571],"nice":false,"zero":false}},
"y2":{"field":"c"},
"fill":{"condition":{"test":"datum.c>=datum.o","value":"#1f262d"},"value":"#c7262c"},
"stroke":{"condition":{"test":"datum.c>=datum.o","value":"#2fe02f"},"value":"#c7262c"}}},
{"data":{"name":"sar"},"mark":{"type":"point","shape":"cross","filled":true,"size":16,"color":"#37b4cc","opacity":1,"clip":true},
"encoding":{
"x":{"field":"i","type":"quantitative","scale":{"domain":[-0.29,160.5],"nice":false,"zero":false}},
"y":{"field":"p","type":"quantitative","scale":{"domain":[1926,2571],"nice":false,"zero":false}}}},
{"data":{"values":[{"x":-0.29,"p":2568,"x2":148.4,"p2":2479}]},"mark":{"type":"rule","color":"#c43cc4","strokeWidth":1.5,"clip":true},
"encoding":{
"x":{"field":"x","type":"quantitative","scale":{"domain":[-0.29,160.5],"nice":false,"zero":false}},"x2":{"field":"x2"},
"y":{"field":"p","type":"quantitative","scale":{"domain":[1926,2571],"nice":false,"zero":false}},"y2":{"field":"p2"}}},
{"data":{"values":[{"x":80.0,"p":2363,"x2":129.3,"p2":2363},{"x":81.1,"p":2396,"x2":133.1,"p2":2307},{"x":80.0,"p":2197,"x2":137.2,"p2":2197},{"x":89.0,"p":2182,"x2":137.2,"p2":2248},{"x":123.1,"p":1997,"x2":156.2,"p2":1997}]},
"mark":{"type":"rule","color":"#dede3c","strokeWidth":1.5,"clip":true},
"encoding":{
"x":{"field":"x","type":"quantitative","scale":{"domain":[-0.29,160.5],"nice":false,"zero":false}},"x2":{"field":"x2"},
"y":{"field":"p","type":"quantitative","scale":{"domain":[1926,2571],"nice":false,"zero":false}},"y2":{"field":"p2"}}},
{"data":{"values":[{"x":51.3,"p":2485,"x2":79.5,"p2":2242},{"x":79.8,"p":2274,"x2":79.5,"p2":2242},{"x":74.8,"p":2250,"x2":79.5,"p2":2242},{"x":138.5,"p":2210,"x2":152.2,"p2":1998},{"x":153.1,"p":2032,"x2":152.2,"p2":1998},{"x":148.2,"p":2018,"x2":152.2,"p2":1998}]},
"mark":{"type":"rule","color":"#e8191a","strokeWidth":5,"strokeCap":"round","clip":true},
"encoding":{
"x":{"field":"x","type":"quantitative","scale":{"domain":[-0.29,160.5],"nice":false,"zero":false}},"x2":{"field":"x2"},
"y":{"field":"p","type":"quantitative","scale":{"domain":[1926,2571],"nice":false,"zero":false}},"y2":{"field":"p2"}}},
{"data":{"values":[{"x":133.8,"p":2371,"x2":143.7,"p2":2455},{"x":141.5,"p":2446,"x2":143.7,"p2":2455},{"x":144.1,"p":2437,"x2":143.7,"p2":2455}]},
"mark":{"type":"rule","color":"#c81818","strokeWidth":2.5,"strokeDash":[2,4],"clip":true},
"encoding":{
"x":{"field":"x","type":"quantitative","scale":{"domain":[-0.29,160.5],"nice":false,"zero":false}},"x2":{"field":"x2"},
"y":{"field":"p","type":"quantitative","scale":{"domain":[1926,2571],"nice":false,"zero":false}},"y2":{"field":"p2"}}},
{"data":{"values":[{"i":129.3,"p":2453,"t":"?"},{"i":133.6,"p":2453,"t":"?"},{"i":137.4,"p":2453,"t":"?"}]},
"mark":{"type":"text","font":"DejaVu Sans","fontSize":18,"color":"#cc1a1a","align":"center","baseline":"middle"},
"encoding":{
"x":{"field":"i","type":"quantitative","scale":{"domain":[-0.29,160.5],"nice":false,"zero":false}},
"y":{"field":"p","type":"quantitative","scale":{"domain":[1926,2571],"nice":false,"zero":false}},
"text":{"field":"t"}}},
{"data":{"values":[{"i":134.1,"p":2284,"t":"!"},{"i":137.6,"p":2284,"t":"!"},{"i":140.8,"p":2284,"t":"!"}]},
"mark":{"type":"text","font":"DejaVu Sans","fontSize":20,"fontWeight":"bold","color":"#f2f21c","align":"center","baseline":"middle"},
"encoding":{
"x":{"field":"i","type":"quantitative","scale":{"domain":[-0.29,160.5],"nice":false,"zero":false}},
"y":{"field":"p","type":"quantitative","scale":{"domain":[1926,2571],"nice":false,"zero":false}},
"text":{"field":"t"}}},
{"data":{"values":[{"i":114.5,"p":2031,"t":"BINGO ! ))"}]},
"mark":{"type":"text","font":"DejaVu Sans","fontSize":20,"fontWeight":"bold","color":"#e8141a","align":"left","baseline":"middle"},
"encoding":{
"x":{"field":"i","type":"quantitative","scale":{"domain":[-0.29,160.5],"nice":false,"zero":false}},
"y":{"field":"p","type":"quantitative","scale":{"domain":[1926,2571],"nice":false,"zero":false}},
"text":{"field":"t"}}},
{"data":{"values":[{"x":152.4,"x2":155.2,"p":2550,"p2":2531},{"x":155.95,"x2":158.9,"p":2550,"p2":2531}]},
"mark":{"type":"rect","color":"#3e454c"},
"encoding":{
"x":{"field":"x","type":"quantitative","scale":{"domain":[-0.29,160.5],"nice":false,"zero":false}},"x2":{"field":"x2"},
"y":{"field":"p","type":"quantitative","scale":{"domain":[1926,2571],"nice":false,"zero":false}},"y2":{"field":"p2"}}},
{"data":{"values":[{"i":153.8,"p":2540.5,"t":"↓"},{"i":157.4,"p":2540.5,"t":"↕"}]},
"mark":{"type":"text","font":"DejaVu Sans","fontSize":10,"color":"#9aa0a6","align":"center","baseline":"middle"},
"encoding":{
"x":{"field":"i","type":"quantitative","scale":{"domain":[-0.29,160.5],"nice":false,"zero":false}},
"y":{"field":"p","type":"quantitative","scale":{"domain":[1926,2571],"nice":false,"zero":false}},
"text":{"field":"t"}}},
{"data":{"values":[{"x":171.9}]},"mark":{"type":"rule","color":"#454c53","strokeWidth":1},
"encoding":{"x":{"field":"x","type":"quantitative","scale":{"domain":[-0.29,160.5],"nice":false,"zero":false}}}},
{"data":{"values":[{"x":160.5,"x2":169.3,"p":2317.2,"p2":2300.9}]},
"mark":{"type":"rect","color":"#e8141a"},
"encoding":{
"x":{"field":"x","type":"quantitative","scale":{"domain":[-0.29,160.5],"nice":false,"zero":false}},"x2":{"field":"x2"},
"y":{"field":"p","type":"quantitative","scale":{"domain":[1926,2571],"nice":false,"zero":false}},"y2":{"field":"p2"}}},
{"data":{"values":[{"i":164.9,"p":2309,"t":"2309'7"}]},
"mark":{"type":"text","font":"Liberation Sans","fontSize":12,"fontWeight":"bold","color":"#ffffff","align":"center","baseline":"middle"},
"encoding":{
"x":{"field":"i","type":"quantitative","scale":{"domain":[-0.29,160.5],"nice":false,"zero":false}},
"y":{"field":"p","type":"quantitative","scale":{"domain":[1926,2571],"nice":false,"zero":false}},
"text":{"field":"t"}}}
]}
]
},
{
"width":717,"height":165,
"view":{"fill":"#171c22","stroke":"#4d545b"},
"layer":[
{"data":{"values":[{"v":80.2},{"v":79.1},{"v":74.6},{"v":71.7},{"v":20.0},{"v":17.2},{"v":15.1},{"v":11.6},{"v":10.3},{"v":9.0}]},
"mark":{"type":"rule","color":"#a3a7ab","strokeDash":[4,2],"strokeWidth":1},
"encoding":{"y":{"field":"v","type":"quantitative","scale":{"domain":[-1.1,90.6],"nice":false,"zero":false},"axis":{"orient":"right","values":[0,20,40,60,80],"tickCount":10,"format":".4f","grid":true,"gridColor":"#262d34","title":null}}}},
{"data":{"values":[{"x":171.9}]},"mark":{"type":"rule","color":"#454c53","strokeWidth":1},
"encoding":{"x":{"field":"x","type":"quantitative","scale":{"domain":[-0.29,160.5],"nice":false,"zero":false}}}},
{"data":{"name":"st"},"transform":[{"filter":"datum.s=='p'"}],
"mark":{"type":"line","color":"#9d1aa6","strokeWidth":2.4,"clip":true},
"encoding":{
"x":{"field":"i","type":"quantitative","scale":{"domain":[-0.29,160.5],"nice":false,"zero":false},"axis":{"values":[10.3,34.3,58.3,82.3,106.3,130.3,154.3],"tickCount":20,"labels":false,"ticks":false,"domain":false,"grid":true,"gridColor":"#262d34","title":null}},
"y":{"field":"v","type":"quantitative","scale":{"domain":[-1.1,90.6],"nice":false,"zero":false}}}},
{"data":{"name":"st"},"transform":[{"filter":"datum.s=='y1'||datum.s=='y2'"}],
"mark":{"type":"line","color":"#c8c81e","strokeWidth":1.4,"clip":true},
"encoding":{
"x":{"field":"i","type":"quantitative","scale":{"domain":[-0.29,160.5],"nice":false,"zero":false}},
"y":{"field":"v","type":"quantitative","scale":{"domain":[-1.1,90.6],"nice":false,"zero":false}},
"detail":{"field":"s"}}},
{"data":{"name":"st"},"transform":[{"filter":"datum.s=='r3'"}],
"mark":{"type":"line","color":"#9a1717","strokeWidth":2.4,"clip":true},
"encoding":{"x":{"field":"i","type":"quantitative","scale":{"domain":[-0.29,160.5],"nice":false,"zero":false}},"y":{"field":"v","type":"quantitative","scale":{"domain":[-1.1,90.6],"nice":false,"zero":false}}}},
{"data":{"name":"st"},"transform":[{"filter":"datum.s=='r2'"}],
"mark":{"type":"line","color":"#cc1d1d","strokeWidth":2.4,"clip":true},
"encoding":{"x":{"field":"i","type":"quantitative","scale":{"domain":[-0.29,160.5],"nice":false,"zero":false}},"y":{"field":"v","type":"quantitative","scale":{"domain":[-1.1,90.6],"nice":false,"zero":false}}}},
{"data":{"name":"st"},"transform":[{"filter":"datum.s=='r1'"}],
"mark":{"type":"line","color":"#e3221f","strokeWidth":2.4,"clip":true},
"encoding":{"x":{"field":"i","type":"quantitative","scale":{"domain":[-0.29,160.5],"nice":false,"zero":false}},"y":{"field":"v","type":"quantitative","scale":{"domain":[-1.1,90.6],"nice":false,"zero":false}}}},
{"data":{"name":"st"},"transform":[{"filter":"datum.s=='r1'||datum.s=='r2'||datum.s=='r3'"}],
"mark":{"type":"line","color":"#5a0e0e","strokeWidth":0.7,"clip":true},
"encoding":{"x":{"field":"i","type":"quantitative","scale":{"domain":[-0.29,160.5],"nice":false,"zero":false}},"y":{"field":"v","type":"quantitative","scale":{"domain":[-1.1,90.6],"nice":false,"zero":false}},"detail":{"field":"s"}}}
]
},
{
"width":717,"height":115,
"view":{"fill":"#1f262d","stroke":null},
"layer":[
{"data":{"values":[{"v":55.1}]},
"mark":{"type":"rule","color":"#a3a7ab","strokeDash":[4,2],"strokeWidth":1},
"encoding":{"y":{"field":"v","type":"quantitative","scale":{"domain":[7.6,99.1],"nice":false,"zero":false},"axis":{"orient":"right","values":[25,50,75],"tickCount":10,"format":".4f","grid":true,"title":null}}}},
{"data":{"values":[{"x":171.9}]},"mark":{"type":"rule","color":"#454c53","strokeWidth":1},
"encoding":{"x":{"field":"x","type":"quantitative","scale":{"domain":[-0.29,160.5],"nice":false,"zero":false}}}},
{"data":{"name":"h3"},
"mark":{"type":"rule","color":"#c41a1a","strokeWidth":1,"clip":true},
"encoding":{
"x":{"field":"i","type":"quantitative","scale":{"domain":[-0.29,160.5],"nice":false,"zero":false},"axis":{"values":[10.3,34.3,58.3,82.3,106.3,130.3,154.3],"tickCount":20,"labels":false,"ticks":false,"domain":false,"grid":true,"title":null}},
"y":{"field":"h","type":"quantitative","scale":{"domain":[7.6,99.1],"nice":false,"zero":false}},
"y2":{"datum":55.1}}},
{"data":{"name":"p3"},"transform":[{"filter":"datum.s=='y'"}],
"mark":{"type":"line","strokeWidth":1.2,"color":"#d6d61e","clip":true},
"encoding":{"x":{"field":"i","type":"quantitative","scale":{"domain":[-0.29,160.5],"nice":false,"zero":false}},"y":{"field":"v","type":"quantitative","scale":{"domain":[7.6,99.1],"nice":false,"zero":false}}}},
{"data":{"name":"p3"},"transform":[{"filter":"datum.s=='d'"}],
"mark":{"type":"line","strokeWidth":1.3,"color":"#b01a1a","clip":true},
"encoding":{"x":{"field":"i","type":"quantitative","scale":{"domain":[-0.29,160.5],"nice":false,"zero":false}},"y":{"field":"v","type":"quantitative","scale":{"domain":[7.6,99.1],"nice":false,"zero":false}}}},
{"data":{"name":"p3"},"transform":[{"filter":"datum.s=='r'"}],
"mark":{"type":"line","strokeWidth":1.3,"color":"#e8231e","clip":true},
"encoding":{"x":{"field":"i","type":"quantitative","scale":{"domain":[-0.29,160.5],"nice":false,"zero":false}},"y":{"field":"v","type":"quantitative","scale":{"domain":[7.6,99.1],"nice":false,"zero":false}}}},
{"data":{"name":"p3"},"transform":[{"filter":"datum.s=='p'"}],
"mark":{"type":"line","strokeWidth":1.3,"color":"#a726c4","clip":true},
"encoding":{"x":{"field":"i","type":"quantitative","scale":{"domain":[-0.29,160.5],"nice":false,"zero":false}},"y":{"field":"v","type":"quantitative","scale":{"domain":[7.6,99.1],"nice":false,"zero":false}}}}
]
}
]
}
